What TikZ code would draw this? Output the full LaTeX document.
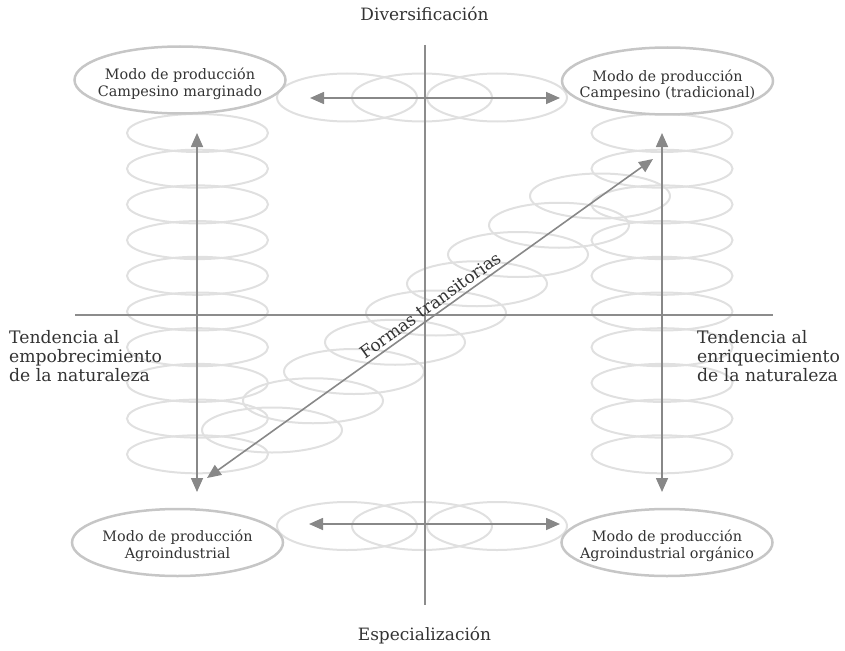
\documentclass[tikz,border=0pt]{standalone}
\usepackage{fontspec}
\setmainfont{DejaVu Serif}
\usetikzlibrary{arrows.meta,shapes.geometric}
\definecolor{axisgray}{HTML}{8C8C8C}
\definecolor{arrowgray}{HTML}{888888}
\definecolor{nodegray}{HTML}{C6C6C6}
\definecolor{ringgray}{HTML}{E0E0E0}
\definecolor{txt}{HTML}{333333}
\begin{document}
\begin{tikzpicture}[x=1pt,y=-1pt,
  ring/.style={draw=ringgray,line width=2pt},
  axisline/.style={draw=axisgray,line width=2pt},
  arr/.style={draw=arrowgray,line width=1.6pt,
    {Triangle[length=14pt,width=12pt]}-{Triangle[length=14pt,width=12pt]}},
  modo/.style={ellipse,draw=nodegray,line width=2.5pt,minimum width=211pt,minimum height=67pt,inner sep=0pt},
  modotxt/.style={align=center,inner sep=0pt,font=\fontsize{14.4}{16.5}\selectfont,text=txt},
  sidetxt/.style={align=left,inner sep=0pt,anchor=north west,font=\fontsize{17.2}{19}\selectfont,text=txt},
  axistxt/.style={inner sep=0pt,anchor=base,font=\fontsize{17}{19}\selectfont,text=txt}
]
\useasboundingbox (0,0) rectangle (845,650);

% light rings
\foreach \i in {0,...,9} {
  \draw[ring] (197.5,133+35.7*\i) ellipse [x radius=70.5pt,y radius=19pt];
  \draw[ring] (662,133+35.7*\i) ellipse [x radius=70.5pt,y radius=19pt];
}
\foreach \i in {0,...,8}
  \draw[ring] (600-41*\i,196+29.25*\i) ellipse [x radius=70pt,y radius=22.5pt];
\foreach \x in {347,422,497} {
  \draw[ring] (\x,97.5) ellipse [x radius=70pt,y radius=24pt];
  \draw[ring] (\x,526) ellipse [x radius=70pt,y radius=24pt];
}

% axes
\coordinate (vt) at (424.5,45);
\coordinate (vb) at (424.5,605);
\coordinate (hl) at (75,314.5);
\coordinate (hr) at (773,314.5);
\draw[axisline] (vt) -- (vb);
\draw[axisline] (hl) -- (hr);

% mode nodes
\node[modo] (tl) at (180,80) {};
\node[modo] (tr) at (667.5,81) {};
\node[modo] (bl) at (177.5,542.5) {};
\node[modo] (br) at (667,542.5) {};
\node[modotxt] (tlt) at (180,84) {Modo de producción\\Campesino marginado};
\node[modotxt] (trt) at (667.5,85) {Modo de producción\\Campesino (tradicional)};
\node[modotxt] (blt) at (177.5,546) {Modo de producción\\Agroindustrial};
\node[modotxt] (brt) at (667,546) {Modo de producción\\Agroindustrial orgánico};

% arrow end points
\coordinate (ta) at (310,98);
\coordinate (tb) at (560,98);
\coordinate (ba) at (309,524);
\coordinate (bb) at (560,524);
\coordinate (la) at (197,133);
\coordinate (lb) at (197,492);
\coordinate (ra) at (662,133);
\coordinate (rb) at (662,492);
\coordinate (da) at (207,478);
\coordinate (db) at (653,159);

\draw[arr] (ta) -- (tb);
\draw[arr] (ba) -- (bb);
\draw[arr] (la) -- (lb);
\draw[arr] (ra) -- (rb);
\draw[arr] (da) -- node[pos=0.515,sloped,above,font=\fontsize{17}{19}\selectfont,text=txt] (ft) {Formas transitorias} (db);

% texts
\node[axistxt] (div) at (424.5,21) {Diversificación};
\node[axistxt] (esp) at (424.5,640.5) {Especialización};
\node[sidetxt] (lt) at (9,330) {Tendencia al\\empobrecimiento\\de la naturaleza};
\node[sidetxt] (rt) at (697,330) {Tendencia al\\enriquecimiento\\de la naturaleza};
\end{tikzpicture}
\end{document}
